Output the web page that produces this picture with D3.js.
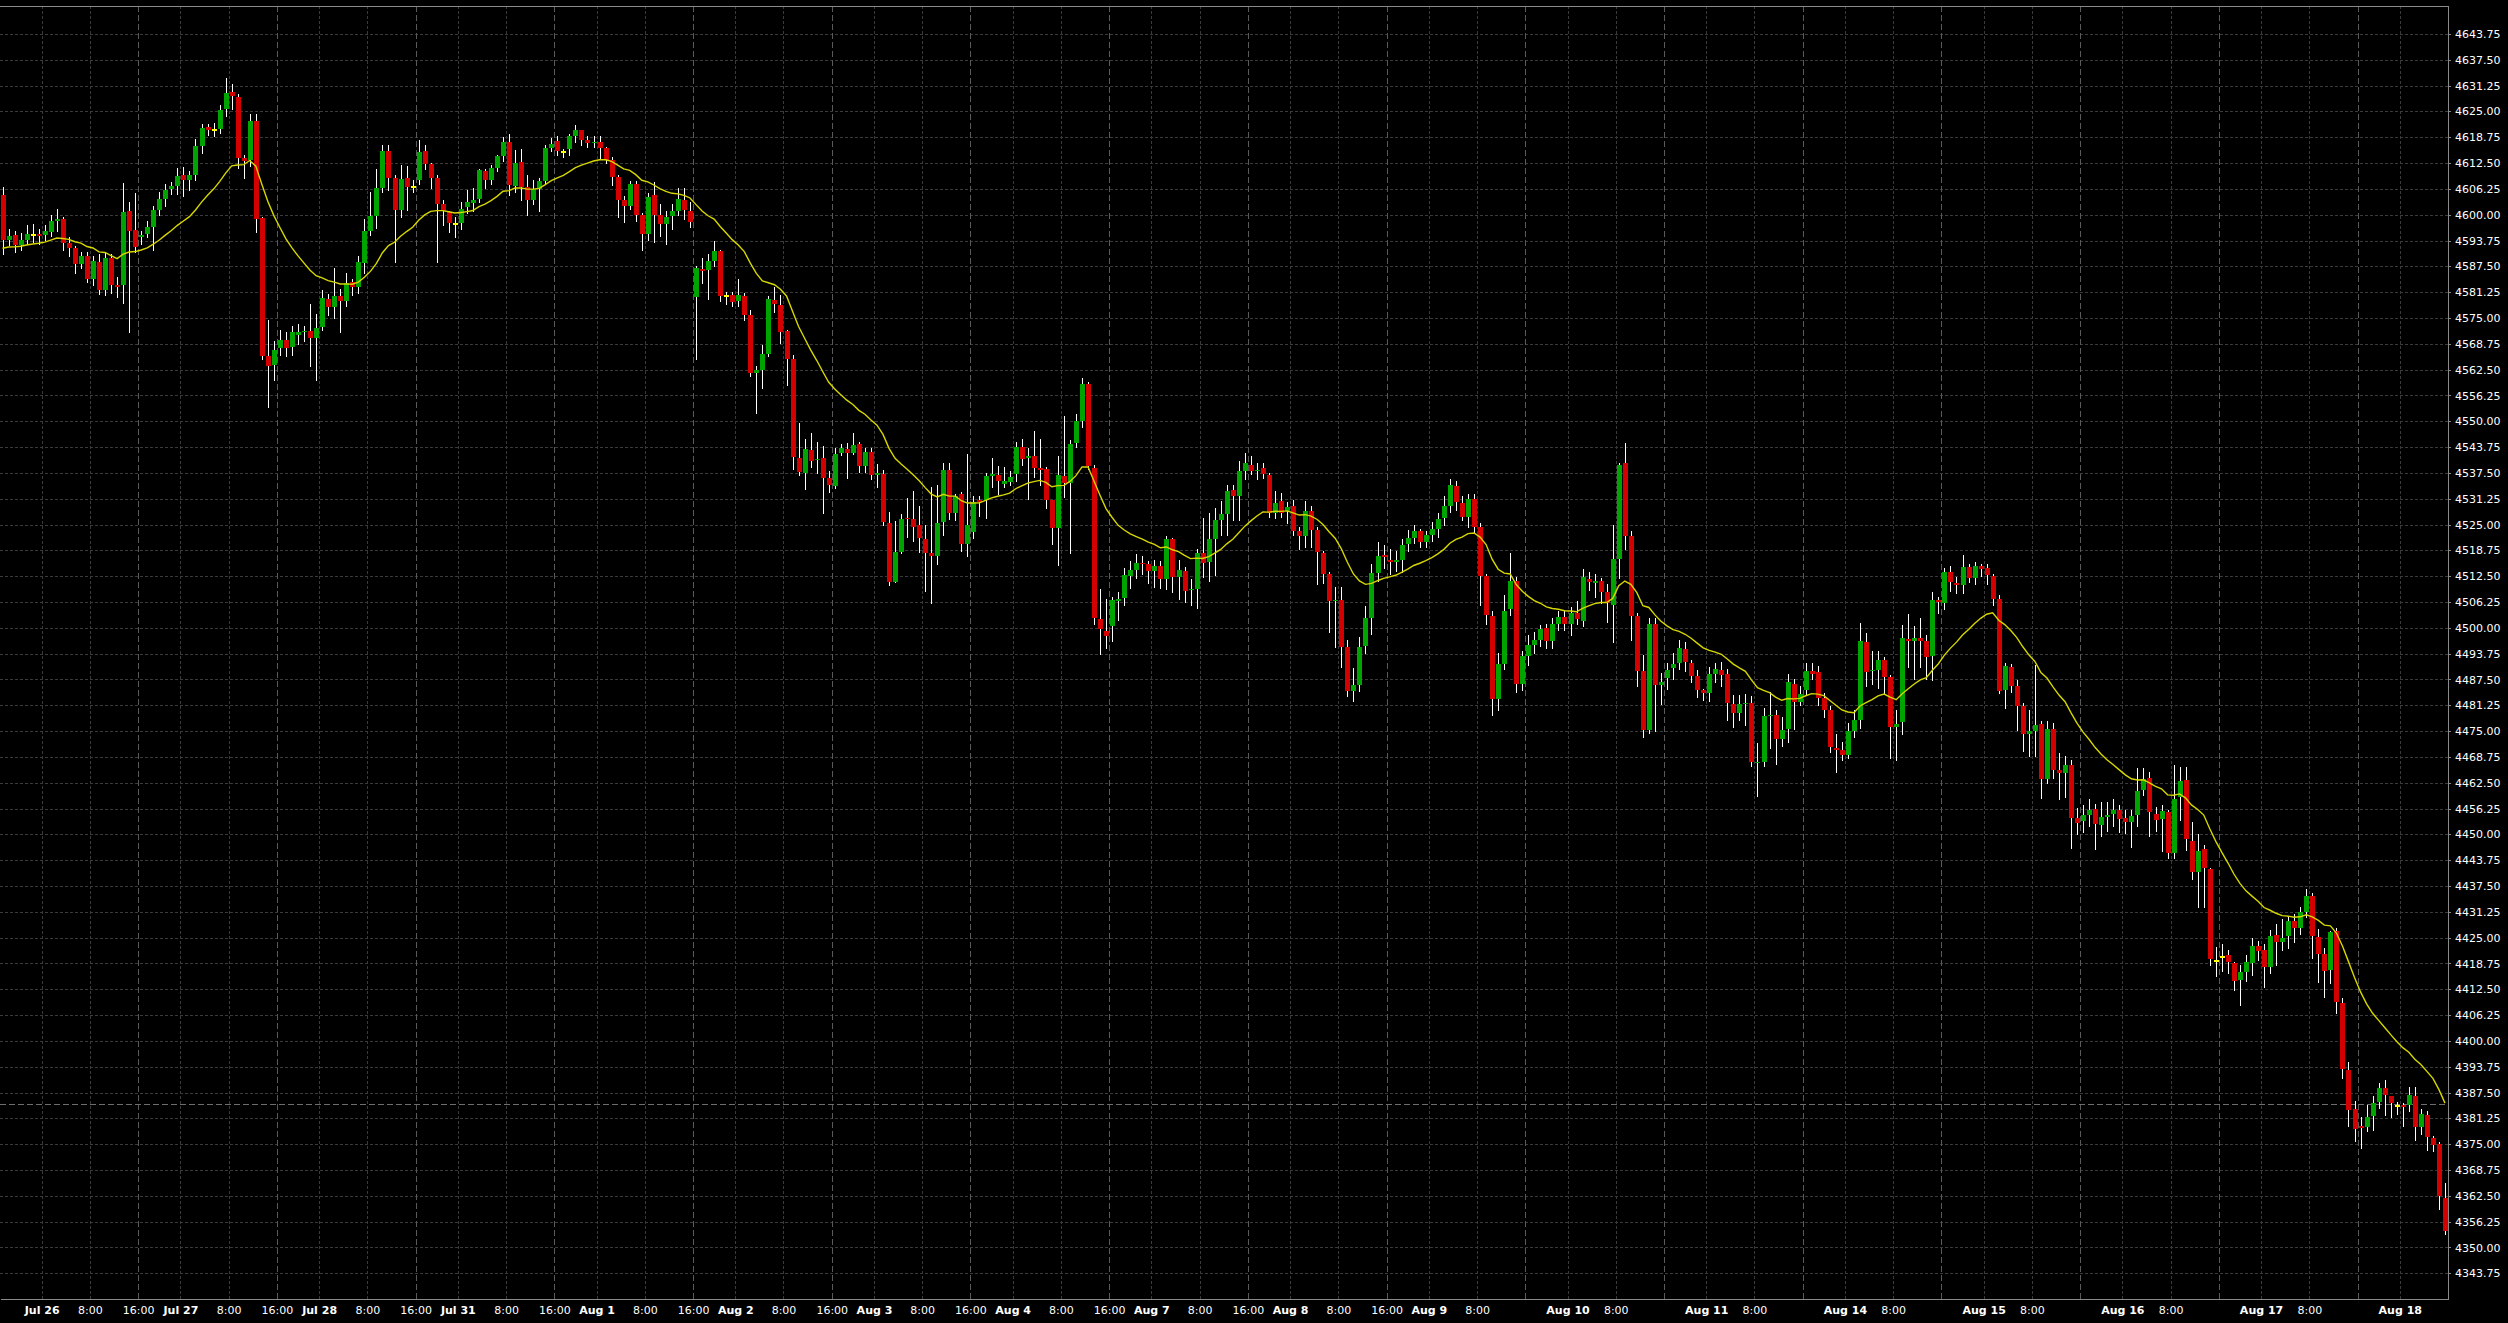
<!DOCTYPE html>
<html>
<head>
<meta charset="utf-8">
<script src="https://cdn.jsdelivr.net/npm/d3@7"></script>
<style>
html,body{margin:0;padding:0;background:#000;overflow:hidden}
svg{display:block}
</style>
</head>
<body>
<svg id="chart" width="2508" height="1323"></svg>
<script>
// ---------------- DATA (hourly bars) ----------------
const opens = [
4604.7,4594.0,4595.0,4592.6,4594.0,4595.2,4595.4,4595.0,4595.8,4598.6,
4598.9,4593.2,4591.9,4588.1,4589.9,4584.5,4588.5,4581.9,4589.6,4582.9,
4583.0,4600.8,4596.2,4594.7,4595.3,4597.0,4601.1,4603.9,4606.2,4606.9,
4609.5,4608.5,4609.6,4616.6,4621.2,4620.4,4620.7,4625.5,4629.6,4628.4,
4613.8,4613.2,4622.6,4599.2,4565.9,4563.6,4567.8,4569.6,4567.9,4570.8,
4571.5,4571.8,4570.1,4572.9,4579.6,4577.6,4580.3,4579.0,4583.7,4582.6,
4588.4,4596.0,4599.7,4606.5,4615.4,4608.8,4601.1,4608.8,4606.7,4608.3,
4615.4,4612.2,4608.9,4602.6,4600.7,4597.7,4598.1,4601.8,4602.9,4603.8,
4610.5,4608.4,4611.3,4614.2,4617.5,4606.9,4612.7,4606.6,4603.5,4606.3,
4608.1,4616.1,4617.8,4615.2,4615.9,4619.0,4620.4,4618.0,4617.3,4617.5,
4616.1,4613.2,4609.1,4603.6,4602.2,4607.5,4599.9,4595.4,4604.7,4599.9,
4597.8,4599.6,4600.8,4603.5,4601.0,4580.1,4586.8,4586.6,4588.7,4591.2,
4580.3,4580.5,4579.1,4580.3,4575.7,4561.8,4562.4,4566.4,4579.3,4578.1,
4571.8,4565.0,4541.0,4537.6,4543.1,4540.6,4541.0,4536.3,4534.3,4542.4,
4543.4,4542.4,4544.5,4539.2,4542.6,4537.0,4537.2,4525.3,4511.2,4518.4,
4526.7,4526.3,4524.9,4521.4,4518.2,4517.5,4525.5,4538.2,4527.7,4532.3,
4520.2,4523.3,4530.9,4530.9,4536.7,4537.0,4534.9,4535.4,4537.2,4543.7,
4541.1,4541.6,4538.8,4538.4,4530.9,4524.1,4536.8,4535.0,4544.8,4550.0,
4559.1,4538.8,4502.1,4499.2,4500.5,4506.6,4507.3,4512.5,4514.1,4515.8,
4515.4,4513.8,4515.0,4511.8,4521.4,4512.4,4513.7,4509.1,4509.5,4518.0,
4516.0,4521.6,4526.2,4527.5,4533.4,4531.9,4538.0,4539.3,4537.9,4538.7,
4537.0,4527.7,4530.7,4528.3,4529.5,4523.5,4522.2,4528.2,4523.8,4518.2,
4513.0,4506.5,4506.7,4495.4,4484.8,4486.2,4495.6,4502.5,4513.2,4517.6,
4516.4,4516.0,4516.4,4520.3,4521.8,4523.4,4520.8,4522.4,4523.9,4526.7,
4529.5,4534.3,4530.1,4526.9,4531.1,4524.3,4512.6,4502.9,4482.7,4491.2,
4504.5,4511.3,4486.3,4493.3,4495.8,4497.0,4500.0,4496.7,4500.9,4502.7,
4500.9,4503.5,4501.6,4511.9,4510.8,4511.3,4508.7,4505.6,4516.6,4539.9,
4522.2,4502.8,4489.6,4475.2,4501.0,4486.1,4487.9,4490.3,4491.4,4494.8,
4491.4,4488.3,4484.9,4484.2,4488.8,4489.8,4488.8,4481.5,4479.4,4481.5,
4481.7,4467.2,4467.6,4478.7,4478.9,4473.0,4475.4,4486.4,4482.1,4484.9,
4489.5,4489.4,4483.0,4480.1,4470.8,4470.4,4469.2,4475.0,4477.6,4496.6,
4489.6,4489.9,4492.2,4488.0,4475.9,4477.2,4497.4,4496.8,4497.6,4496.8,
4493.2,4506.7,4505.9,4513.4,4510.9,4510.3,4514.7,4512.1,4514.9,4514.5,
4512.5,4507.1,4484.9,4490.5,4485.9,4481.1,4474.4,4475.0,4476.7,4463.4,
4475.6,4465.7,4464.8,4466.7,4453.9,4453.3,4454.8,4456.1,4452.3,4454.3,
4455.0,4456.0,4453.9,4453.1,4454.7,4460.7,4463.7,4454.9,4453.7,4455.5,
4445.6,4459.0,4463.1,4448.4,4441.0,4446.4,4441.6,4419.4,4420.3,4420.7,
4418.8,4414.8,4416.6,4418.9,4423.0,4422.0,4418.0,4425.7,4424.0,4425.3,
4429.0,4427.4,4431.3,4435.1,4425.1,4421.0,4417.1,4426.6,4409.1,4393.0,
4383.5,4379.3,4379.1,4381.8,4385.1,4388.6,4386.6,4384.3,4384.5,4384.4,
4386.7,4379.2,4382.1,4376.5,4375.0,4362.1
];
const highs = [
4606.7,4596.5,4596.0,4595.5,4597.5,4597.8,4596.5,4597.5,4600.0,4601.5,
4599.5,4594.5,4592.5,4591.0,4591.0,4590.0,4590.5,4591.0,4590.5,4585.0,
4607.6,4603.2,4605.2,4596.0,4598.5,4602.0,4605.5,4607.5,4608.0,4611.2,
4611.5,4610.5,4618.4,4622.0,4622.0,4622.3,4626.5,4633.2,4631.7,4629.3,
4614.5,4624.5,4624.5,4599.5,4574.5,4569.5,4572.0,4571.5,4573.0,4573.5,
4573.0,4578.5,4576.0,4581.7,4580.9,4587.0,4582.0,4585.8,4584.5,4590.0,
4599.0,4605.5,4611.0,4616.8,4616.8,4609.5,4612.0,4611.8,4608.5,4618.0,
4616.8,4612.5,4609.5,4603.5,4601.0,4599.5,4603.0,4606.0,4606.5,4611.0,
4611.0,4612.0,4614.5,4618.8,4619.6,4615.6,4615.8,4609.5,4608.5,4609.0,
4617.0,4618.5,4619.0,4616.0,4619.5,4621.8,4620.5,4619.0,4619.0,4619.0,
4616.5,4614.0,4609.5,4604.5,4608.2,4608.2,4600.5,4605.2,4607.9,4602.5,
4601.0,4602.5,4606.5,4606.5,4603.0,4587.6,4589.5,4590.5,4593.6,4591.5,
4581.3,4581.3,4584.5,4581.0,4577.0,4563.5,4568.5,4580.3,4582.5,4580.5,
4572.0,4566.0,4549.7,4545.6,4547.2,4545.0,4544.0,4538.0,4543.5,4544.6,
4544.7,4547.1,4545.0,4543.5,4543.5,4539.7,4538.3,4528.0,4525.8,4527.5,
4531.5,4533.1,4529.5,4524.9,4534.0,4534.5,4539.8,4539.8,4532.5,4533.0,
4542.1,4532.0,4532.0,4537.5,4541.0,4539.1,4538.9,4538.0,4544.9,4545.7,
4543.5,4547.6,4545.7,4539.0,4531.0,4541.5,4551.3,4545.5,4551.8,4560.5,
4559.5,4539.3,4509.5,4507.0,4507.5,4508.6,4514.5,4516.1,4517.8,4517.4,
4516.1,4516.5,4516.1,4522.2,4521.7,4516.5,4514.8,4511.9,4519.2,4526.7,
4527.7,4529.0,4530.8,4534.5,4534.5,4540.5,4542.3,4541.6,4540.0,4540.0,
4537.5,4533.2,4532.6,4530.5,4531.0,4524.5,4530.8,4529.5,4524.5,4518.5,
4513.5,4510.0,4510.0,4497.0,4490.3,4497.8,4505.2,4515.5,4520.8,4520.0,
4519.0,4518.5,4521.5,4523.8,4525.0,4524.0,4523.4,4525.7,4527.9,4532.0,
4536.0,4535.6,4532.0,4532.5,4532.5,4525.3,4513.0,4504.0,4494.0,4508.0,
4518.2,4512.3,4494.5,4498.2,4499.0,4500.8,4501.0,4502.5,4504.0,4504.0,
4505.0,4506.5,4514.3,4513.5,4513.0,4512.0,4510.5,4525.0,4539.8,4544.8,
4523.5,4503.5,4493.5,4502.4,4502.5,4489.0,4491.5,4494.0,4497.0,4496.5,
4492.2,4489.8,4485.3,4490.5,4491.5,4491.8,4490.0,4483.7,4483.8,4484.0,
4483.5,4472.2,4480.5,4484.5,4480.0,4478.5,4488.8,4487.5,4486.0,4491.6,
4491.5,4490.8,4484.3,4481.2,4474.3,4472.3,4477.0,4480.2,4501.1,4498.8,
4494.5,4494.5,4493.0,4488.5,4480.0,4500.6,4503.3,4500.5,4502.3,4498.3,
4508.7,4507.5,4514.5,4515.0,4512.3,4517.7,4515.5,4516.0,4515.5,4515.5,
4513.0,4508.0,4491.5,4491.3,4487.3,4481.8,4480.0,4491.0,4477.5,4477.5,
4477.0,4469.6,4469.0,4468.0,4456.4,4457.0,4458.5,4457.3,4457.8,4457.8,
4458.5,4457.0,4456.0,4456.0,4466.0,4466.0,4465.2,4456.6,4457.0,4456.0,
4466.8,4466.2,4466.2,4453.0,4450.0,4447.5,4441.8,4422.7,4423.5,4422.0,
4419.0,4418.5,4420.8,4424.9,4424.1,4423.5,4426.9,4428.2,4429.5,4430.3,
4430.8,4432.5,4436.7,4435.8,4427.0,4422.5,4426.5,4427.3,4410.5,4395.0,
4385.5,4381.5,4384.5,4386.7,4389.8,4390.5,4386.7,4385.3,4385.0,4388.9,
4388.9,4383.5,4383.0,4377.0,4375.5,4365.5
];
const lows = [
4590.6,4592.6,4591.0,4591.5,4593.0,4593.5,4593.0,4594.0,4594.8,4596.0,
4591.5,4590.0,4585.9,4587.0,4583.7,4583.0,4580.7,4580.5,4581.0,4580.0,
4578.6,4571.6,4591.0,4593.0,4594.5,4591.5,4600.0,4602.0,4605.0,4605.0,
4604.5,4606.0,4608.4,4615.0,4619.3,4619.0,4619.8,4624.0,4625.5,4611.3,
4609.0,4611.8,4595.9,4565.0,4553.5,4560.0,4566.0,4565.8,4566.0,4568.8,
4569.5,4563.5,4560.0,4572.0,4575.8,4575.0,4571.5,4578.0,4580.5,4581.0,
4585.8,4595.0,4596.8,4605.5,4606.0,4588.6,4599.4,4601.2,4605.5,4607.4,
4611.0,4606.5,4588.5,4597.5,4595.8,4594.5,4596.5,4600.5,4601.0,4603.0,
4606.5,4607.5,4610.5,4613.0,4604.7,4605.5,4603.5,4600.0,4602.5,4601.0,
4607.5,4615.5,4614.5,4614.0,4614.5,4617.5,4617.0,4616.5,4616.5,4613.5,
4612.5,4607.3,4599.5,4598.2,4601.5,4598.5,4591.5,4594.0,4593.5,4594.8,
4592.8,4596.5,4600.0,4599.0,4597.0,4565.0,4583.5,4579.5,4587.5,4579.0,
4578.5,4578.0,4578.0,4574.5,4561.0,4552.0,4558.0,4565.8,4576.5,4568.9,
4558.7,4538.5,4537.0,4533.7,4539.0,4537.5,4527.8,4533.0,4533.8,4541.8,
4536.2,4542.0,4537.7,4537.8,4536.0,4534.1,4524.8,4510.3,4511.0,4518.0,
4522.0,4521.0,4518.4,4508.8,4506.0,4515.5,4522.5,4526.4,4526.0,4518.5,
4517.4,4521.8,4527.0,4526.6,4534.0,4532.5,4534.0,4534.5,4535.5,4539.5,
4531.1,4536.5,4534.5,4529.0,4520.3,4515.1,4531.7,4518.2,4543.7,4548.5,
4538.5,4501.0,4493.6,4495.0,4496.8,4502.0,4505.5,4509.6,4512.0,4513.0,
4510.8,4510.0,4509.7,4509.5,4508.6,4507.0,4506.2,4505.5,4504.7,4512.3,
4511.4,4512.7,4522.5,4522.5,4526.0,4526.0,4536.0,4537.3,4536.0,4536.3,
4526.8,4526.5,4526.8,4525.3,4522.5,4519.0,4519.5,4519.5,4510.5,4510.8,
4499.0,4495.4,4490.6,4483.5,4482.3,4484.8,4493.8,4498.6,4511.4,4514.5,
4513.0,4513.8,4513.5,4518.5,4520.5,4519.5,4519.5,4521.0,4522.0,4525.0,
4528.0,4528.5,4526.0,4524.3,4523.0,4505.5,4501.0,4479.0,4480.0,4490.0,
4503.0,4484.5,4485.0,4491.0,4494.0,4495.5,4495.0,4495.0,4499.5,4499.5,
4498.2,4501.0,4500.5,4509.2,4507.5,4506.0,4501.5,4496.6,4512.0,4519.0,
4497.0,4486.0,4473.5,4474.5,4475.0,4481.5,4485.3,4487.5,4490.0,4489.5,
4486.8,4483.2,4482.5,4482.3,4486.8,4486.0,4477.6,4476.0,4477.6,4476.5,
4466.5,4459.2,4466.5,4471.0,4467.0,4471.5,4472.3,4475.5,4481.4,4483.8,
4487.5,4481.4,4478.5,4470.0,4465.1,4468.0,4468.5,4473.5,4475.8,4485.8,
4486.5,4485.5,4484.3,4468.5,4468.1,4474.2,4490.5,4487.5,4490.5,4487.5,
4487.3,4503.5,4504.5,4509.0,4508.5,4508.5,4511.0,4510.5,4512.5,4510.5,
4505.5,4484.2,4480.5,4484.5,4475.2,4470.2,4469.0,4469.0,4458.8,4462.5,
4463.6,4458.5,4459.0,4446.8,4450.0,4450.5,4452.0,4446.5,4449.5,4450.8,
4452.0,4450.5,4450.3,4447.0,4452.0,4459.5,4449.5,4450.7,4446.0,4444.4,
4444.3,4453.5,4446.3,4439.3,4432.5,4432.5,4418.4,4415.7,4417.0,4416.5,
4412.3,4408.7,4414.5,4416.0,4419.5,4413.0,4416.5,4418.5,4422.0,4422.5,
4424.0,4426.0,4430.0,4420.0,4414.3,4410.7,4414.0,4406.7,4391.0,4379.3,
4375.8,4374.0,4378.3,4378.5,4383.7,4382.0,4381.5,4382.3,4379.5,4383.0,
4376.0,4377.5,4373.5,4373.3,4359.4,4353.3
];
const closes = [
4593.8,4594.8,4592.6,4594.0,4595.4,4595.2,4594.8,4596.0,4598.6,4599.0,
4593.2,4591.9,4588.1,4589.9,4584.5,4588.7,4581.9,4589.6,4582.9,4582.5,
4600.6,4596.0,4592.1,4595.1,4597.0,4601.1,4603.7,4606.1,4606.9,4609.3,
4608.5,4609.5,4616.6,4621.1,4620.4,4620.4,4625.3,4629.5,4628.7,4613.8,
4613.0,4622.6,4598.9,4565.9,4563.5,4567.2,4569.6,4567.8,4571.5,4571.5,
4571.8,4570.1,4572.6,4579.8,4577.6,4580.3,4579.0,4583.4,4582.6,4588.6,
4596.0,4599.7,4606.5,4615.4,4608.9,4601.1,4608.6,4606.7,4606.7,4615.1,
4612.2,4608.9,4602.6,4601.0,4598.1,4597.7,4601.5,4603.0,4603.5,4610.8,
4608.4,4611.4,4614.2,4617.5,4607.2,4612.5,4606.6,4603.5,4606.3,4608.1,
4616.1,4617.2,4615.4,4615.2,4619.0,4620.4,4618.0,4617.3,4617.7,4616.1,
4613.3,4609.1,4603.6,4602.2,4607.5,4599.9,4595.4,4604.4,4599.9,4597.8,
4599.4,4600.8,4603.7,4601.2,4598.2,4587.1,4586.4,4588.7,4591.2,4580.3,
4580.3,4578.9,4580.5,4575.7,4561.7,4562.4,4566.4,4579.5,4578.5,4571.6,
4565.0,4541.4,4537.8,4543.2,4540.5,4540.8,4536.3,4534.6,4542.2,4543.6,
4542.4,4544.2,4539.2,4542.6,4537.0,4537.5,4525.5,4511.2,4518.4,4526.3,
4526.3,4524.5,4521.8,4518.2,4517.5,4525.3,4538.2,4527.7,4531.9,4520.2,
4524.9,4530.4,4530.4,4536.7,4537.2,4535.5,4535.5,4536.6,4543.7,4540.9,
4541.6,4538.8,4538.3,4530.9,4524.1,4537.0,4535.0,4544.5,4550.1,4559.0,
4539.1,4502.3,4499.6,4498.0,4506.7,4506.9,4512.8,4514.1,4515.8,4515.4,
4513.8,4515.0,4511.8,4521.4,4512.4,4514.0,4509.0,4509.5,4518.0,4515.8,
4521.6,4526.2,4527.5,4533.1,4531.9,4537.9,4540.0,4537.9,4538.3,4537.3,
4527.7,4530.3,4527.9,4529.3,4523.5,4522.2,4528.2,4523.8,4518.4,4513.0,
4506.5,4506.7,4495.4,4484.8,4486.2,4495.4,4502.5,4513.2,4517.4,4517.2,
4516.0,4516.4,4520.0,4521.8,4523.4,4520.8,4522.4,4523.9,4526.3,4529.5,
4534.5,4530.5,4526.9,4531.1,4524.3,4512.6,4503.1,4482.7,4491.2,4504.1,
4511.3,4486.3,4493.3,4495.8,4497.0,4499.7,4496.8,4500.9,4502.7,4500.9,
4503.5,4502.1,4512.3,4511.1,4511.3,4508.7,4505.9,4516.6,4539.3,4522.2,
4502.8,4489.6,4475.2,4500.9,4486.1,4486.8,4489.9,4491.2,4495.0,4491.8,
4488.3,4485.0,4484.3,4488.8,4490.1,4488.6,4481.7,4479.4,4481.5,4481.8,
4467.6,4467.6,4478.7,4478.9,4473.0,4475.3,4486.8,4482.1,4484.1,4489.5,
4488.9,4483.0,4480.1,4471.2,4470.4,4469.2,4475.0,4477.6,4496.8,4489.3,
4489.9,4492.2,4488.0,4475.9,4476.8,4497.6,4496.8,4497.6,4496.8,4493.0,
4506.7,4506.3,4513.4,4511.1,4510.3,4514.7,4512.1,4514.9,4514.3,4512.7,
4507.0,4484.7,4490.7,4485.9,4481.1,4474.4,4475.0,4476.6,4463.4,4475.4,
4465.6,4464.8,4466.7,4453.9,4452.7,4454.6,4456.0,4452.5,4454.1,4454.7,
4456.0,4453.7,4453.1,4454.4,4460.5,4463.5,4455.3,4453.6,4455.6,4445.6,
4458.5,4463.0,4449.0,4441.0,4446.0,4441.8,4419.85,4419.4,4420.3,4419.2,
4414.6,4416.6,4419.1,4423.0,4421.8,4418.0,4425.4,4424.0,4424.8,4429.0,
4427.4,4431.1,4435.1,4425.5,4421.0,4417.0,4426.3,4409.5,4393.2,4383.3,
4378.6,4378.9,4381.6,4385.0,4388.6,4387.0,4385.0,4384.3,4384.1,4386.8,
4379.2,4382.4,4376.7,4374.9,4362.4,4353.9
];

// price axis tick labels
const priceTicks = [
4343.75,4350.00,4356.25,4362.50,4368.75,4375.00,4381.25,4387.50,4393.75,4400.00,
4406.25,4412.50,4418.75,4425.00,4431.25,4437.50,4443.75,4450.00,4456.25,4462.50,
4468.75,4475.00,4481.25,4487.50,4493.75,4500.00,4506.25,4512.50,4518.75,4525.00,
4531.25,4537.50,4543.75,4550.00,4556.25,4562.50,4568.75,4575.00,4581.25,4587.50,
4593.75,4600.00,4606.25,4612.50,4618.75,4625.00,4631.25,4637.50,4643.75
];
const priceDomain = [4337.53, 4650.53];

// time axis: trading days, index of each day's 00:00 bar
const dayLabels = ["Jul 26","Jul 27","Jul 28","Jul 31","Aug 1","Aug 2","Aug 3","Aug 4","Aug 7",
                   "Aug 8","Aug 9","Aug 10","Aug 11","Aug 14","Aug 15","Aug 16","Aug 17","Aug 18"];
const dayStartBar = [6,29,52,75,98,121,144,167,190,213,236,259,282,305,328,351,374,397];
// hour marks inside each day: [hours after 00:00, label]
const hourMarks = [[8,"8:00"],[16,"16:00"]];
// number of days whose 16:00 mark carries a text label (later ones only have a grid line)
const labelled1600Days = 10;

// 20-period EMA (yellow) and its value just before the first visible bar
const emaPeriod = 20;
const emaSeed = 4591.7;
// horizontal dashed level line
const levelLine = 4384.75;

// ---------------- DRAWING ----------------
const W = 2508, H = 1323;
const plotL = 0, plotR = 2448, plotT = 6, plotB = 1299;
const n = closes.length;

const svg = d3.select("#chart");
svg.append("rect").attr("width", W).attr("height", H).attr("fill", "#000");

const x = d3.scaleLinear().domain([-0.415, n - 0.5]).range([plotL, plotR]);
const y = d3.scaleLinear().domain(priceDomain).range([plotB, plotT]);

svg.append("defs").append("clipPath").attr("id", "plotclip")
  .append("rect").attr("x", plotL).attr("y", plotT)
  .attr("width", plotR - plotL).attr("height", plotB - plotT);

// time marks
const marks = [];
dayStartBar.forEach((b, d) => {
  marks.push({bar: b, label: dayLabels[d], kind: "day"});
  if (d < dayStartBar.length - 1) {
    hourMarks.forEach(([h, lab]) => {
      const show = (h === 16) ? d < labelled1600Days : true;
      marks.push({bar: b + h, label: show ? lab : "", kind: h === 16 ? "session" : "hour"});
    });
  }
});
marks.sort((a, b) => a.bar - b.bar);

const grid = svg.append("g").attr("shape-rendering", "crispEdges");
// horizontal grid
grid.selectAll("line.h").data(priceTicks).join("line").attr("class", "h")
  .attr("x1", plotL).attr("x2", plotR)
  .attr("y1", d => Math.round(y(d)) + 0.5).attr("y2", d => Math.round(y(d)) + 0.5)
  .attr("stroke", "#3a3a3a").attr("stroke-width", 1).attr("stroke-dasharray", "3,2");
// vertical grid
grid.selectAll("line.v").data(marks).join("line").attr("class", "v")
  .attr("x1", d => Math.round(x(d.bar + 0.5)) + 0.5).attr("x2", d => Math.round(x(d.bar + 0.5)) + 0.5)
  .attr("y1", plotT).attr("y2", plotB)
  .attr("stroke", d => d.kind === "session" ? "#5a5a5a" : "#3a3a3a")
  .attr("stroke-width", 1)
  .attr("stroke-dasharray", d => d.kind === "session" ? "6,3" : "3,2");

// level line
svg.append("line")
  .attr("x1", plotL).attr("x2", plotR)
  .attr("y1", Math.round(y(levelLine)) + 0.5).attr("y2", Math.round(y(levelLine)) + 0.5)
  .attr("stroke", "#6e6e6e").attr("stroke-width", 1).attr("stroke-dasharray", "6,3")
  .attr("shape-rendering", "crispEdges");

// candles
const idx = d3.range(n);
const cg = svg.append("g").attr("clip-path", "url(#plotclip)").attr("shape-rendering", "crispEdges");
const cx = i => Math.round(x(i));
cg.selectAll("line.wick").data(idx).join("line").attr("class", "wick")
  .attr("x1", i => cx(i) + 0.5).attr("x2", i => cx(i) + 0.5)
  .attr("y1", i => Math.round(y(Math.max(highs[i], opens[i], closes[i]))))
  .attr("y2", i => Math.round(y(Math.min(lows[i], opens[i], closes[i]))) + 1)
  .attr("stroke", "#ffffff").attr("stroke-width", 1);

cg.selectAll("rect.body").data(idx.filter(i => opens[i] !== closes[i])).join("rect").attr("class", "body")
  .attr("x", i => cx(i) - 2).attr("width", 5)
  .attr("y", i => Math.round(y(Math.max(opens[i], closes[i]))))
  .attr("height", i => Math.max(1, Math.round(y(Math.min(opens[i], closes[i]))) - Math.round(y(Math.max(opens[i], closes[i])))))
  .attr("fill", i => closes[i] > opens[i] ? "#00a400" : "#d40000");

cg.selectAll("rect.doji").data(idx.filter(i => opens[i] === closes[i])).join("rect").attr("class", "doji")
  .attr("x", i => cx(i) - 2).attr("width", 5)
  .attr("y", i => Math.round(y(closes[i])) - 1).attr("height", 2)
  .attr("fill", "#ffff00");

// EMA line (computed from the closes, as the platform indicator does)
const k = 2 / (emaPeriod + 1);
let prev = emaSeed;
const ema = closes.map(c => (prev = prev + k * (c - prev)));
svg.append("path").attr("clip-path", "url(#plotclip)")
  .datum(ema)
  .attr("d", d3.line().x((d, i) => x(i)).y(d => y(d)))
  .attr("fill", "none").attr("stroke", "#d6d600").attr("stroke-width", 1.4);

// frame top
svg.append("line").attr("x1", plotL).attr("x2", plotR + 0.5)
  .attr("y1", plotT + 0.5).attr("y2", plotT + 0.5)
  .attr("stroke", "#8a8a8a").attr("shape-rendering", "crispEdges");

// y axis (right)
const yAxis = d3.axisRight(y).tickValues(priceTicks).tickFormat(d3.format(".2f"))
  .tickSize(3).tickSizeOuter(0).tickPadding(4);
const gy = svg.append("g").attr("transform", `translate(${plotR},0)`).call(yAxis);
gy.select(".domain").attr("stroke", "#8a8a8a").attr("shape-rendering", "crispEdges");
gy.selectAll(".tick line").attr("stroke", "#8a8a8a").attr("shape-rendering", "crispEdges");
gy.selectAll(".tick text").attr("fill", "#ffffff")
  .style("font-family", "'DejaVu Sans', sans-serif").style("font-size", "11px");

// x axis (bottom)
const labelled = marks.filter(m => m.label !== "");
const xAxis = d3.axisBottom(x).tickValues(labelled.map(m => m.bar + 0.5))
  .tickFormat((d, i) => labelled[i].label).tickSize(0).tickSizeOuter(0).tickPadding(7);
const gx = svg.append("g").attr("transform", `translate(0,${plotB})`).call(xAxis);
gx.select(".domain").attr("stroke", "#8a8a8a").attr("shape-rendering", "crispEdges");
gx.selectAll(".tick text").attr("fill", "#ffffff")
  .style("font-family", "'DejaVu Sans', sans-serif").style("font-size", "11px")
  .style("font-weight", (d, i) => labelled[i].kind === "day" ? "bold" : "normal");
</script>
</body>
</html>
